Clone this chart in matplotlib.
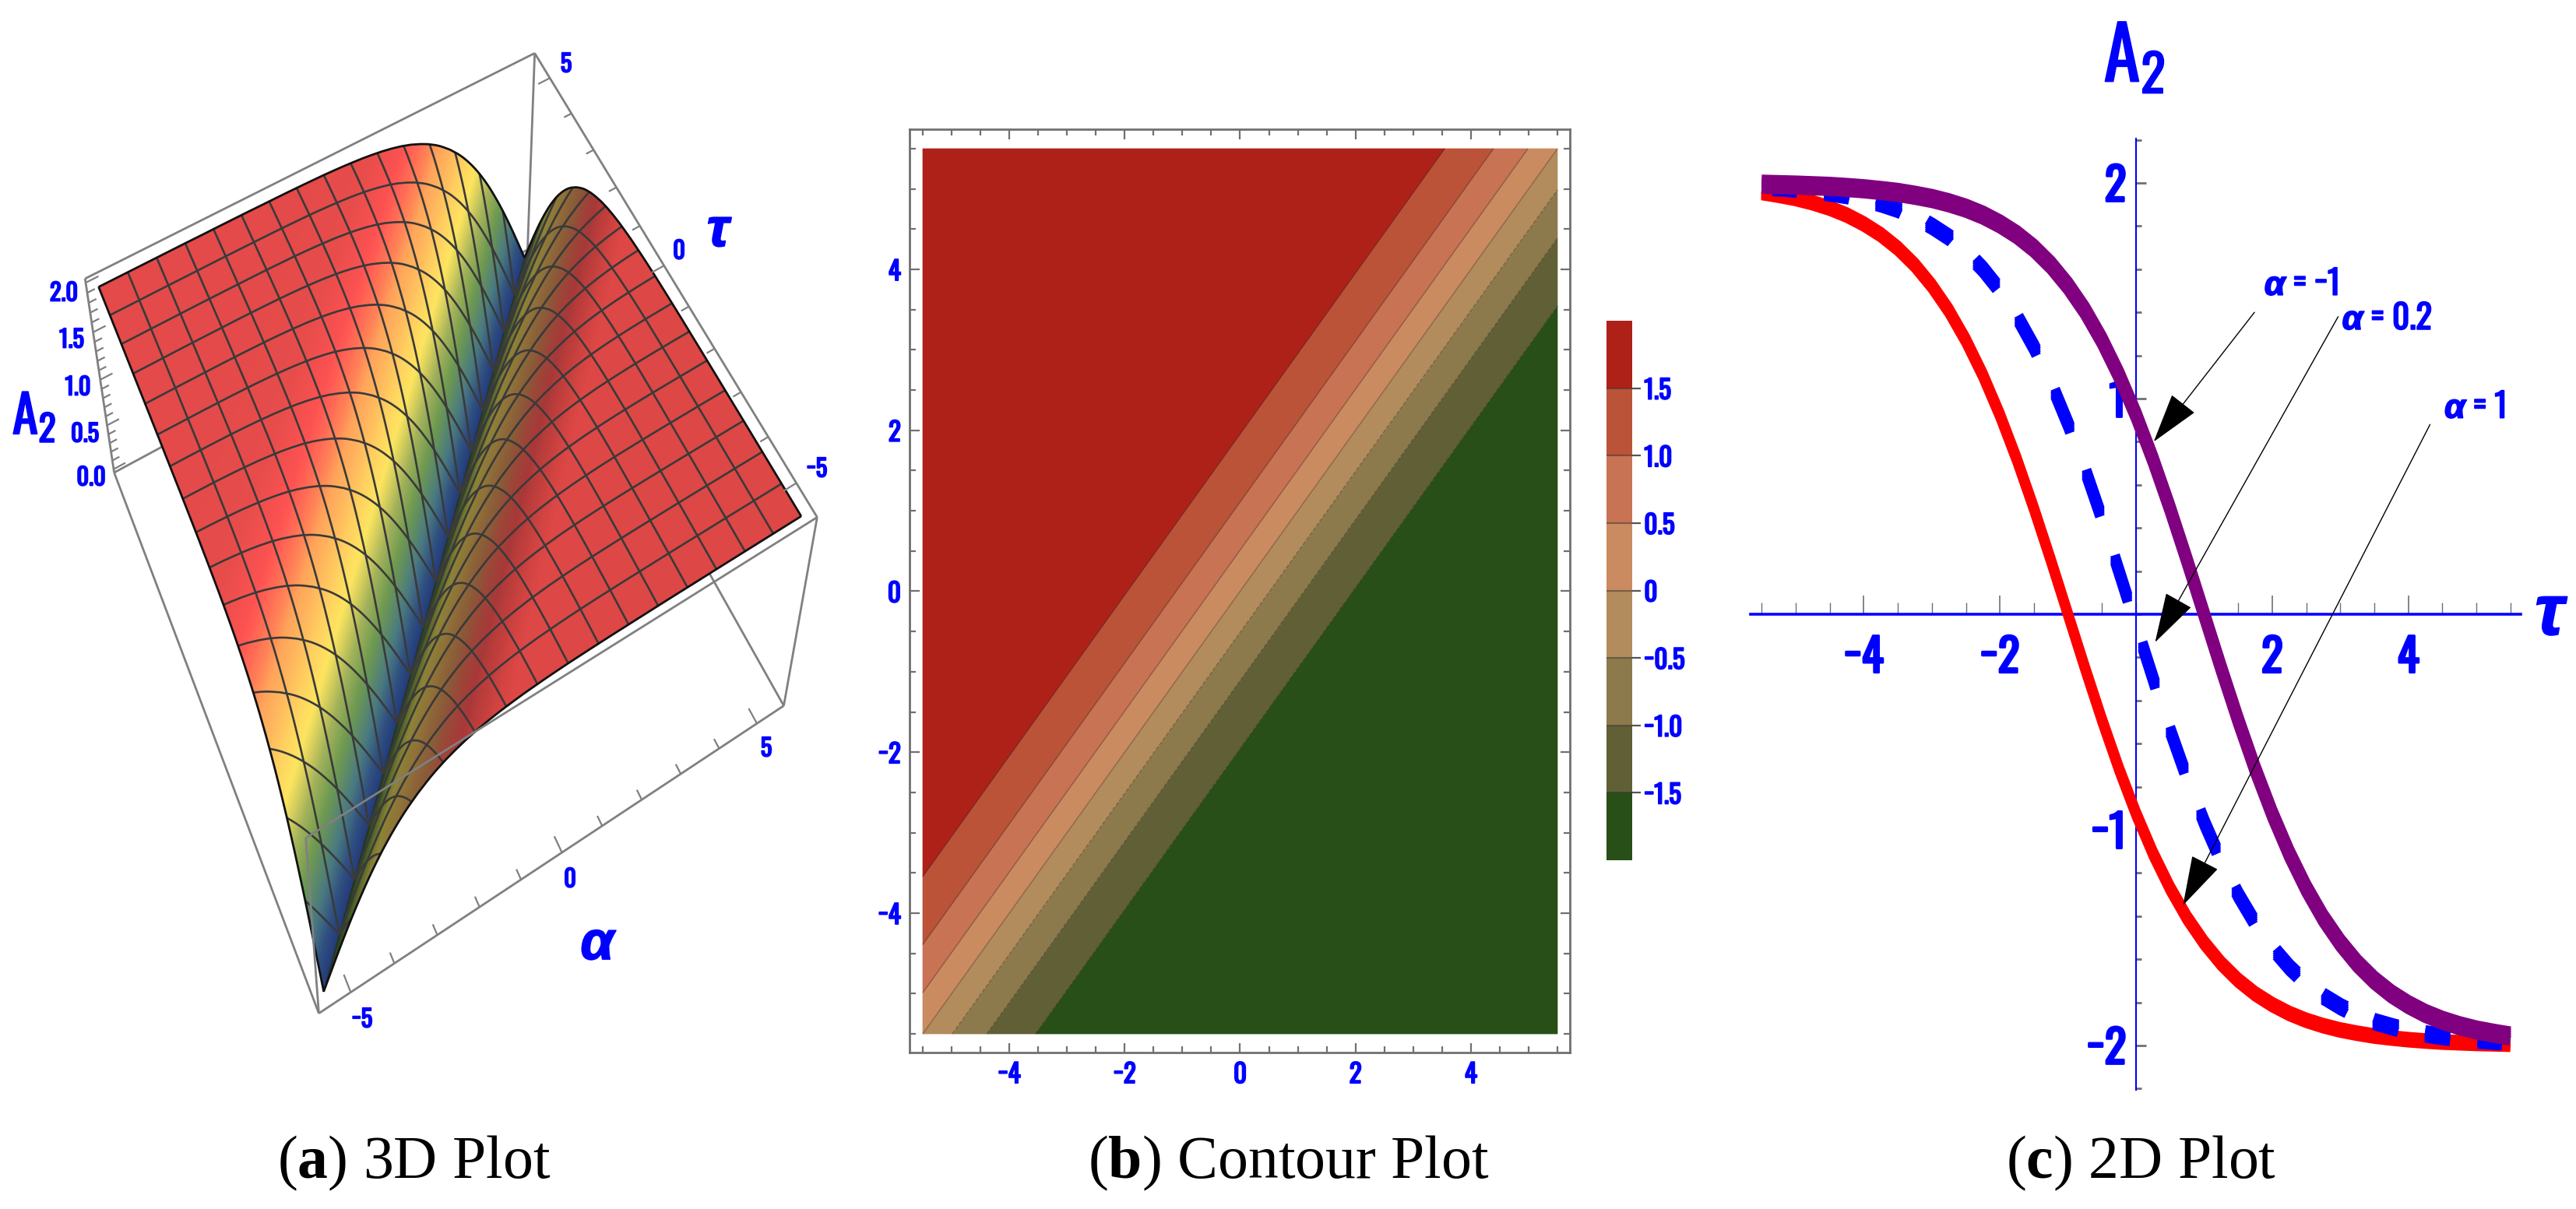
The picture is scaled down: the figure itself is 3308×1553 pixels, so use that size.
import numpy as np
import matplotlib
matplotlib.use("Agg")
import matplotlib.pyplot as plt
import matplotlib.patheffects as pe
from matplotlib.colors import LinearSegmentedColormap
from matplotlib.transforms import offset_copy
from mpl_toolkits.mplot3d.art3d import Poly3DCollection, Line3DCollection
import logging
logging.getLogger("matplotlib.font_manager").setLevel(logging.ERROR)

W, H = 3308, 1553
DPI = 100
BLUE = "#0000ff"
NARROW = ["Oswald", "Liberation Sans Narrow", "Liberation Sans", "DejaVu Sans"]
SANS = ["Liberation Sans", "DejaVu Sans"]
plt.rcParams["mathtext.fontset"] = "custom"
plt.rcParams["mathtext.rm"] = "Liberation Serif"
plt.rcParams["mathtext.bf"] = "Liberation Serif:bold"
plt.rcParams["mathtext.it"] = "Liberation Sans:italic:bold"

# ---- data ----
# profile of |A2| against the distance |tau - alpha|
dist_nodes = [0, .1, .2, .3, .4, .5, .6, .7, .8, .9, 1, 1.1, 1.2, 1.3, 1.4, 1.5, 1.6, 1.7, 1.8, 1.9, 2,
              2.2, 2.4, 2.5, 2.6, 2.8, 3, 3.25, 3.5, 3.75, 4, 4.25, 4.5, 4.75, 5, 5.25, 5.5, 5.75, 6,
              6.5, 7, 7.5, 8, 8.5, 9, 9.5, 10, 10.5, 11]
height_nodes = [0, .100, .199, .298, .395, .490, .583, .673, .760, .843, .924, 1.001, 1.074, 1.143, 1.209,
                1.270, 1.328, 1.382, 1.433, 1.480, 1.523, 1.601, 1.667, 1.697, 1.724, 1.771, 1.810, 1.851,
                1.883, 1.908, 1.928, 1.943, 1.956, 1.965, 1.973, 1.979, 1.984, 1.987, 1.990, 1.994, 1.996,
                1.998, 1.999, 1.999, 2, 2, 2, 2, 2]
mesh_cells = 16
grid_axis = [-5.5, -5, -4.5, -4, -3.5, -3, -2.5, -2, -1.5, -1, -.5, 0, .5, 1, 1.5, 2, 2.5, 3, 3.5, 4, 4.5, 5, 5.5]
contour_levels = [-2.01, -1.5, -1, -.5, 0, .5, 1, 1.5, 2.01]
contour_colors = ["#274f17", "#605f36", "#8c7a4c", "#b28c5c", "#ca8b60", "#c87354", "#bb5339", "#ae2119"]
cbar_ticks = [-1.5, -1, -.5, 0, .5, 1, 1.5]
cbar_labels = ["\u22121.5", "\u22121.0", "\u22120.5", "0", "0.5", "1.0", "1.5"]

tau = [-5.5, -5.25, -5, -4.75, -4.5, -4.25, -4, -3.75, -3.5, -3.25, -3, -2.75, -2.5, -2.25, -2, -1.75, -1.5,
       -1.25, -1, -.75, -.5, -.25, 0, .25, .5, .75, 1, 1.25, 1.5, 1.75, 2, 2.25, 2.5, 2.75, 3, 3.25, 3.5,
       3.75, 4, 4.25, 4.5, 4.75, 5, 5.25, 5.5]
a2_alpha_1 = [1.956, 1.943, 1.928, 1.908, 1.883, 1.851, 1.810, 1.760, 1.697, 1.619, 1.523, 1.408, 1.270, 1.109,
              .924, .717, .490, .249, 0, -.249, -.490, -.717, -.924, -1.109, -1.270, -1.408, -1.523, -1.619,
              -1.697, -1.760, -1.810, -1.851, -1.883, -1.908, -1.928, -1.943, -1.956, -1.965, -1.973, -1.979,
              -1.984, -1.987, -1.990, -1.992, -1.994]
a2_alpha_02 = [1.982, 1.978, 1.972, 1.964, 1.954, 1.942, 1.925, 1.904, 1.878, 1.844, 1.800, 1.749, 1.683, 1.601,
               1.502, 1.382, 1.240, 1.074, .884, .673, .443, .199, -.050, -.298, -.537, -.760, -.963, -1.143,
               -1.300, -1.433, -1.544, -1.636, -1.711, -1.771, -1.819, -1.858, -1.889, -1.912, -1.932, -1.946,
               -1.958, -1.967, -1.974, -1.980, -1.985]
a2_alpha_m1 = [1.994, 1.992, 1.990, 1.987, 1.984, 1.979, 1.973, 1.965, 1.956, 1.943, 1.928, 1.908, 1.883, 1.851,
               1.810, 1.760, 1.697, 1.619, 1.523, 1.408, 1.270, 1.109, .924, .717, .490, .249, 0, -.249, -.490,
               -.717, -.924, -1.109, -1.270, -1.408, -1.523, -1.619, -1.697, -1.760, -1.810, -1.851, -1.883,
               -1.908, -1.928, -1.943, -1.956]


def rect(x0, y0, x1, y1):
    """axes rectangle from pixel corners (y from the top)"""
    return [x0 / W, 1 - y1 / H, (x1 - x0) / W, (y1 - y0) / H]


BOLDER = [pe.withStroke(linewidth=1.3, foreground=BLUE)]
fig = plt.figure(figsize=(W / DPI, H / DPI), dpi=DPI, facecolor="white")

# ================= panel (a): 3D surface =================
box_half, z_lo, z_hi = 5.72, -0.04, 2.04
box_world = [(-1, 1, 1), (1, 1, 1), (1, -1, 1), (-1, -1, 1), (-1, 1, 0), (1, 1, 0), (1, -1, 0), (-1, -1, 0)]
box_image = [(109, 358), (687, 68), (1049, 665), (393, 1076), (147, 607), (677, 321), (1007, 906), (409, 1302)]


def world(c):
    return (c[0] * box_half, c[1] * box_half, z_hi if c[2] else z_lo)


rows = []
for c, p in zip(box_world, box_image):
    X = np.array([*world(c), 1.0]) / np.array([6, 6, 1, 1])
    u, v = p[0] / 1000, (H - p[1]) / 1000
    rows.append(np.r_[X, 0 * X, -u * X])
    rows.append(np.r_[0 * X, X, -v * X])
P = np.linalg.svd(np.array(rows))[2][-1].reshape(3, 4)
P = np.diag([1000.0, 1000.0, 1.0]) @ P @ np.diag([1 / 6, 1 / 6, 1, 1])
P = P / P[2, 3]
J = P[:2, :3] - np.outer(P[:2, 3], P[2, :3])
view = np.linalg.svd(J)[2][-1]
if view[2] > 0:
    view = -view
M = np.vstack([P[0], P[1], np.r_[view, 0.0], P[2]])

ax3 = fig.add_axes([0, 0, 1, 1], projection="3d", computed_zorder=False)
ax3.set_axis_off()
ax3.patch.set_visible(False)
ax3.get_proj = lambda: M
ax3.apply_aspect = lambda position=None: None
ax3._viewLim.intervalx = (0, W)
ax3._viewLim.intervaly = (0, H)

lit_map = LinearSegmentedColormap.from_list("lit", [
    (0.000, "#223a7a"), (0.100, "#2f4f80"), (0.220, "#4a7a80"), (0.380, "#6f9a50"), (0.500, "#a3b25a"),
    (0.635, "#fde55f"), (0.720, "#ffcf60"), (0.845, "#ffa45a"), (0.935, "#ff5352"), (0.978, "#e64c4a"),
    (1.000, "#e34a49")])
dark_map = LinearSegmentedColormap.from_list("dark", [
    (0.000, "#22301c"), (0.245, "#3f5a24"), (0.535, "#8c8436"), (0.700, "#8f7238"), (0.825, "#8a5a38"),
    (0.915, "#a83838"), (0.945, "#c03e3c"), (0.9725, "#dd4745"), (1.000, "#dd4745")])

SUB = 6  # colour steps inside one planar strip of the table
verts, colors = [], []
e = 5.5
for d1, d2, z1, z2 in zip(dist_nodes[:-1], dist_nodes[1:], height_nodes[:-1], height_nodes[1:]):
    for k in range(SUB):
        a, b = d1 + (d2 - d1) * k / SUB, d1 + (d2 - d1) * (k + 1) / SUB
        za, zb = z1 + (z2 - z1) * k / SUB, z1 + (z2 - z1) * (k + 1) / SUB
        zm = (za + zb) / 4.0
        verts.append([(-e, -e + a, za), (e - a, e, za), (e - b, e, zb), (-e, -e + b, zb)])
        colors.append(lit_map(zm))
        verts.append([(-e + a, -e, za), (e, e - a, za), (e, e - b, zb), (-e + b, -e, zb)])
        colors.append(dark_map(zm))
surf = Poly3DCollection(verts, facecolors=colors, edgecolors=colors, linewidths=0.8, zorder=3)
ax3.add_collection3d(surf, autolim=False)


def height(a, t):
    return np.interp(np.abs(np.asarray(t) - np.asarray(a)), dist_nodes, height_nodes)


s = np.linspace(-e, e, 241)
mesh_segments, edge_segments = [], []
for i in range(mesh_cells + 1):
    c = -e + i * 2 * e / mesh_cells
    l1 = np.column_stack([np.full_like(s, c), s, height(c, s)])
    l2 = np.column_stack([s, np.full_like(s, c), height(s, c)])
    (edge_segments if i in (0, mesh_cells) else mesh_segments).extend([l1, l2])
ax3.add_collection3d(Line3DCollection(mesh_segments, colors="#3a3a3a", linewidths=1.9, zorder=4), autolim=False)
ax3.add_collection3d(Line3DCollection(edge_segments, colors="#111111", linewidths=2.0, zorder=5), autolim=False)

A, B, C, D, E, F, G, K = [world(c) for c in box_world]
back = [(E, F), (F, G), (F, B)]
front = [(A, B), (B, C), (C, G), (G, K), (K, E), (E, A), (K, D), (D, C)]
ax3.add_collection3d(Line3DCollection(back, colors="#808080", linewidths=2.0, zorder=2), autolim=False)
ax3.add_collection3d(Line3DCollection(front, colors="#808080", linewidths=2.0, zorder=6), autolim=False)

tick_segments = []
for v in range(-5, 6):
    L = 0.32 if v % 5 == 0 else 0.2
    tick_segments.append([(v, -box_half, z_lo), (v, -box_half + L, z_lo)])
    tick_segments.append([(box_half, v, z_hi), (box_half - L, v, z_hi)])
for v in np.arange(0, 2.01, 0.1):
    L = 0.3 if round(v * 10) % 5 == 0 else 0.18
    tick_segments.append([(-box_half, box_half, v), (-box_half + L, box_half, v)])
ax3.add_collection3d(Line3DCollection(tick_segments, colors="#808080", linewidths=1.6, zorder=6), autolim=False)


def ptext(x, y, s, size, **kw):
    kw.setdefault("family", NARROW)
    kw.setdefault("weight", "bold")
    kw.setdefault("color", BLUE)
    t = fig.text(x / W, 1 - y / H, s, fontsize=size, ha=kw.pop("ha", "center"), va=kw.pop("va", "center"), **kw)
    t.set_path_effects(BOLDER)


for (x, y, s) in [(82, 377, "2.0"), (92, 437, "1.5"), (100, 498, "1.0"), (109, 558, "0.5"), (117, 614, "0.0"),
                  (727, 83, "5"), (872, 323, "0"), (1049, 603, "\u22125"),
                  (465, 1310, "\u22125"), (732, 1130, "0"), (984, 962, "5")]:
    ptext(x, y, s, 22)
ptext(44, 536, "A$_{\\mathregular{2}}$", 48)
ptext(767, 1214, "\u03b1", 50, style="italic", family=SANS)
ptext(922, 298, "\u03c4", 50, style="italic", family=SANS)

# ================= panel (b): contour =================
axb = fig.add_axes(rect(1168, 166, 2016, 1352))
alpha_g, tau_g = np.meshgrid(grid_axis, grid_axis)
sep = tau_g - alpha_g
Z = np.sign(sep) * np.interp(np.abs(sep), dist_nodes, height_nodes)
cf = axb.contourf(alpha_g, tau_g, Z, levels=contour_levels, colors=contour_colors, antialiased=True)
cf.set_edgecolor("face")
cf.set_linewidth(0.5)
axb.contour(alpha_g, tau_g, Z, levels=contour_levels[1:-1], colors="#222222", linewidths=1.0, alpha=0.35)
axb.set_xlim(-5.5 - 17 / 74.1, 5.5 + 16 / 74.1)
axb.set_ylim(-5.5 - 24 / 103.4, 5.5 + 25 / 103.4)
axb.set_xticks([-4, -2, 0, 2, 4], ["\u22124", "\u22122", "0", "2", "4"])
axb.set_yticks([-4, -2, 0, 2, 4], ["\u22124", "\u22122", "0", "2", "4"])
axb.set_xticks(grid_axis, minor=True)
axb.set_yticks(grid_axis, minor=True)
axb.tick_params(which="both", direction="in", top=True, right=True, color="#707070", width=1.6)
axb.tick_params(which="major", length=9, labelsize=24, labelcolor=BLUE, pad=8)
axb.tick_params(which="minor", length=5.5)
for t in axb.get_xticklabels() + axb.get_yticklabels():
    t.set_family(NARROW)
    t.set_weight("bold")
    t.set_path_effects(BOLDER)
for sp in axb.spines.values():
    sp.set_color("#707070")
    sp.set_linewidth(2)

cax = fig.add_axes(rect(2063, 412, 2096, 1105))
cb = fig.colorbar(cf, cax=cax, ticks=cbar_ticks)
cb.ax.set_yticklabels(cbar_labels)
cb.outline.set_visible(False)
cb.ax.tick_params(length=8, width=1.6, color="#555555", labelsize=24, labelcolor=BLUE, pad=3)
for t in cb.ax.get_yticklabels():
    t.set_family(NARROW)
    t.set_weight("bold")
    t.set_path_effects(BOLDER)
for v in cbar_ticks:
    cb.ax.axhline(v, color="#333333", alpha=0.5, lw=1.5)

# ================= panel (c): 2D curves =================
PX_X, PX_Y = 87.4, 277.0
axc = fig.add_axes(rect(2248, 178, 3237, 1400))
axc.patch.set_visible(False)
axc.set_xlim(-495 / PX_X, 494 / PX_X)
axc.set_ylim(-611 / PX_Y, 611 / PX_Y)


def thick(x, y, color, lw, spread, z, n=5):
    """the source is stretched vertically, so strokes are thicker on flat parts"""
    for off in np.linspace(-spread, spread, n):
        tr = offset_copy(axc.transData, fig=fig, y=off, units="dots")
        axc.plot(x, y, color=color, lw=lw, transform=tr, solid_capstyle="butt", zorder=z)


thick(tau, a2_alpha_1, "#ff0000", 8.0, 4.5, 3)
# dashes of constant length in the unstretched picture
fine_t = np.linspace(tau[0], tau[-1], 1601)
fine_a = np.interp(fine_t, tau, a2_alpha_02)
arc = np.r_[0, np.cumsum(np.hypot(np.diff(fine_t) * PX_X, np.diff(fine_a) * PX_Y / 1.95))]
arc_end = np.interp(-0.12, fine_t, arc)
DASH_ON, DASH_PERIOD = 32.0, 67.0
phase = (arc - arc_end) % DASH_PERIOD
dash_a = np.where(phase >= DASH_PERIOD - DASH_ON, fine_a, np.nan)
thick(fine_t, dash_a, "#0000ff", 9.0, 5, 4)
thick(tau, a2_alpha_m1, "#800080", 9.2, 6, 5)

for name in ("top", "right"):
    axc.spines[name].set_visible(False)
for name in ("left", "bottom"):
    axc.spines[name].set_position("zero")
    axc.spines[name].set_color(BLUE)
axc.spines["bottom"].set_linewidth(2.6)
axc.spines["left"].set_linewidth(1.5)
axc.set_xticks([-4, -2, 2, 4], ["\u22124", "\u22122", "2", "4"])
axc.set_yticks([-2, -1, 1, 2], ["\u22122", "\u22121", "1", "2"])
axc.set_xticks(np.arange(-5.5, 5.51, 0.5), minor=True)
axc.set_yticks(np.arange(-2.2, 2.21, 0.2), minor=True)
axc.tick_params(which="both", direction="in", color="#707070")
axc.tick_params(axis="x", which="major", length=17, width=1.2, pad=20)
axc.tick_params(axis="x", which="minor", length=11, width=1.0)
axc.tick_params(axis="y", which="major", length=9, width=2, pad=9)
axc.tick_params(axis="y", which="minor", length=5, width=2)
axc.tick_params(which="major", labelsize=42, labelcolor=BLUE)
for t in axc.get_xticklabels() + axc.get_yticklabels():
    t.set_family(NARROW)
    t.set_weight("bold")
    t.set_path_effects([pe.withStroke(linewidth=2.0, foreground=BLUE)])

notes = [("$\\alpha$ = \u22121", (2.43, 1.53), (1.74, 1.40), (0.26, 0.80)),
         ("$\\alpha$ = 0.2", (3.69, 1.37), (2.97, 1.38), (0.28, -0.13)),
         ("$\\alpha$ = 1", (4.98, 0.96), (4.32, 0.88), (0.69, -1.35))]
for label, tpos, tail, head in notes:
    axc.annotate("", xy=head, xytext=tail, zorder=7,
                 arrowprops=dict(arrowstyle="-|>,head_length=2.1,head_width=0.62", color="black", lw=1.0,
                                 shrinkA=0, shrinkB=0, mutation_scale=20))
    t = axc.text(*tpos, label, color=BLUE, fontsize=31, family=NARROW, weight="bold", ha="center", va="center")
    t.set_path_effects(BOLDER)
ptext(2741, 75, "A$_{\\mathregular{2}}$", 68, style="italic")
ptext(3274, 791, "\u03c4", 66, style="italic", family=SANS)

# ================= captions =================
for x, s in [(531.5, "($\\mathbf{a}$) 3D Plot"), (1655, "($\\mathbf{b}$) Contour Plot"), (2750, "($\\mathbf{c}$) 2D Plot")]:
    fig.text(x / W, 1 - 1513 / H, s, fontsize=56, family="Liberation Serif", color="black", ha="center", va="baseline")

fig.savefig("out.png", dpi=DPI, facecolor="white")
